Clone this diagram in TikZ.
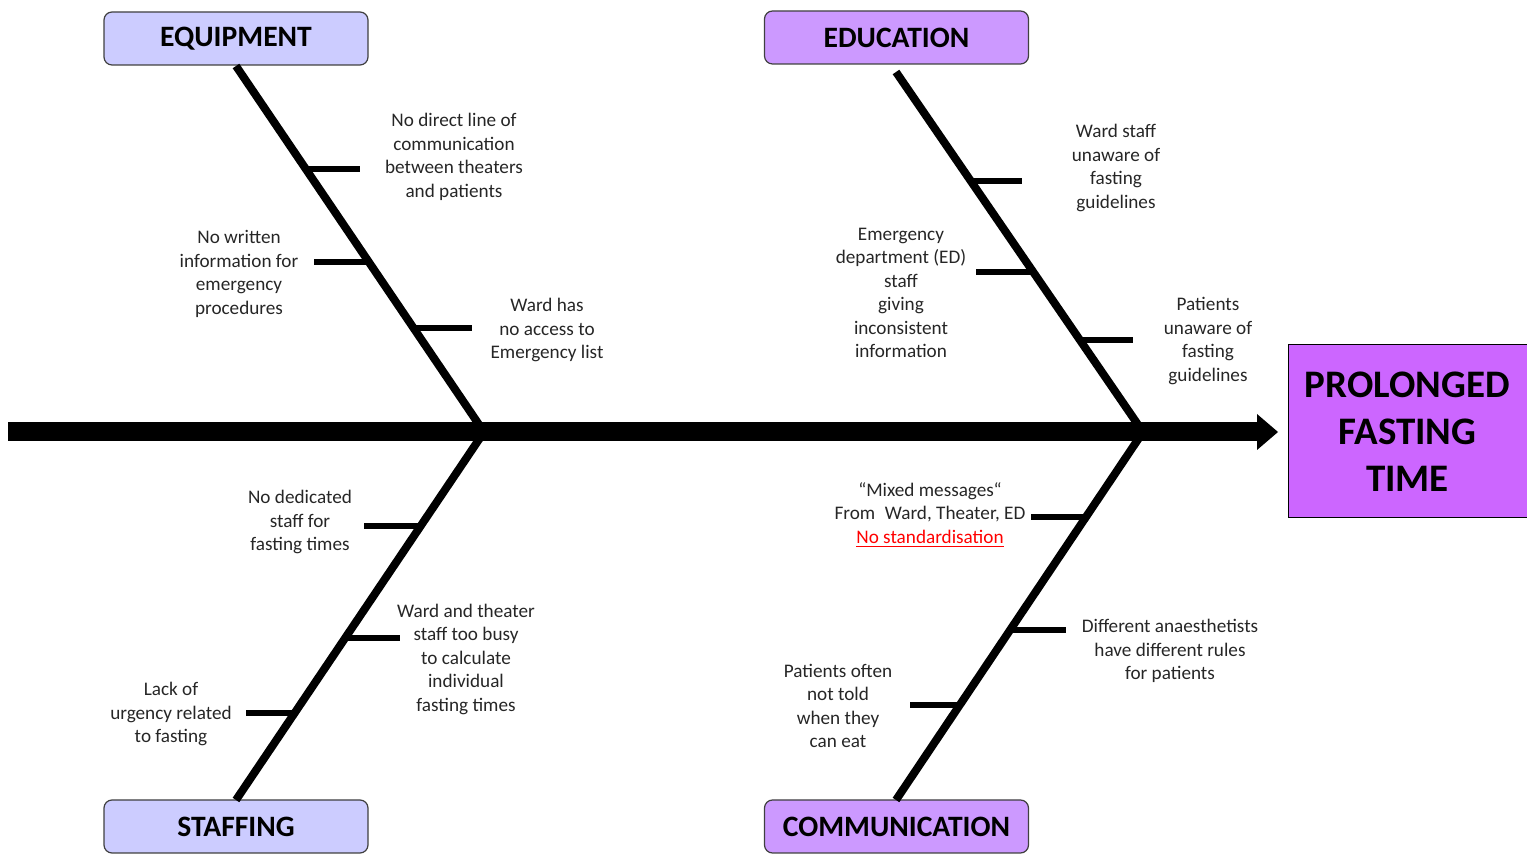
\documentclass[tikz,border=0pt]{standalone}
\usepackage{fontspec}
\setmainfont{Carlito}
\usetikzlibrary{calc}
\definecolor{lavender}{HTML}{CCCCFF}
\definecolor{lilac}{HTML}{CC99FF}
\definecolor{violet}{HTML}{CC66FF}
\definecolor{txt}{HTML}{262626}
\definecolor{boxedge}{HTML}{404040}
\tikzset{
  catbox/.style={draw=boxedge, line width=0.6pt, rounded corners=4pt, minimum width=132pt, minimum height=26.5pt, inner sep=0pt, font=\fontsize{14.8}{17}\selectfont\bfseries, text=black},
  effectbox/.style={draw=black, line width=0.5pt, fill=violet, minimum width=119.5pt, minimum height=86.5pt, inner sep=0pt, align=center, font=\fontsize{19.5}{23.5}\selectfont\bfseries, text=black},
  bone/.style={line width=4pt, black},
  tickmark/.style={line width=3.2pt, black},
  spine/.style={line width=9.5pt, black},
  cause/.style={align=center, inner sep=0pt, text=txt, font=\fontsize{9.6}{11.75}\selectfont},
}
\begin{document}
\begin{tikzpicture}[x=0.5pt,y=-0.5pt]
\useasboundingbox (0,0) rectangle (1527,854);
% category boxes
\node[catbox, fill=lavender] (equip) at (236,38.5) {\raisebox{-2pt}{EQUIPMENT}};
\node[catbox, fill=lilac] (edu) at (896.5,37.5) {\raisebox{-1pt}{EDUCATION}};
\node[catbox, fill=lavender] (staff) at (236,826.5) {\raisebox{-1pt}{STAFFING}};
\node[catbox, fill=lilac] (comm) at (896.5,826.5) {\raisebox{-1pt}{COMMUNICATION}};
\node[effectbox] (effect) at (1407.5,431.5) {PROLONGED\\FASTING\\TIME};
% spine
\coordinate (tail) at (8,432);
\coordinate (j1) at (484,432);
\coordinate (j2) at (1143,432);
\coordinate (head) at (1260,432);
\coordinate (eqtop) at (236,66);
\coordinate (edtop) at (896,72);
\coordinate (stbot) at (236,800);
\coordinate (cmbot) at (896,800);
\draw[spine] (tail) -- (head);
\fill[black] (1257,414) -- (1278,432) -- (1257,450) -- cycle;
% bones
\draw[bone] (eqtop) -- (j1);
\draw[bone] (edtop) -- (j2);
\draw[bone] (j1) -- (stbot);
\draw[bone] (j2) -- (cmbot);
% ticks equipment
\draw[tickmark] ($(eqtop)!0.281!(j1)$) -- ++(54,0);
\draw[tickmark] ($(eqtop)!0.536!(j1)$) -- ++(-55,0);
\draw[tickmark] ($(eqtop)!0.716!(j1)$) -- ++(58,0);
% ticks education
\draw[tickmark] ($(edtop)!0.303!(j2)$) -- ++(51,0);
\draw[tickmark] ($(edtop)!0.556!(j2)$) -- ++(-57,0);
\draw[tickmark] ($(edtop)!0.744!(j2)$) -- ++(53,0);
% ticks staffing
\draw[tickmark] ($(j1)!0.255!(stbot)$) -- ++(-57,0);
\draw[tickmark] ($(j1)!0.560!(stbot)$) -- ++(55,0);
\draw[tickmark] ($(j1)!0.764!(stbot)$) -- ++(-49,0);
% ticks communication
\draw[tickmark] ($(j2)!0.231!(cmbot)$) -- ++(-55,0);
\draw[tickmark] ($(j2)!0.538!(cmbot)$) -- ++(56,0);
\draw[tickmark] ($(j2)!0.742!(cmbot)$) -- ++(-50,0);
% cause texts
\node[cause] (c1) at (454,157) {No direct line of\\communication\\between theaters\\and patients};
\node[cause] (c2) at (239,274) {No written\\information for\\emergency\\procedures};
\node[cause] (c3) at (547,330) {Ward has\\no access to\\Emergency list};
\node[cause] (c4) at (1116,168) {Ward staff\\unaware of\\fasting\\guidelines};
\node[cause] (c5) at (901,293) {Emergency\\department (ED)\\staff\\giving\\inconsistent\\information};
\node[cause] (c6) at (1208,341) {Patients\\unaware of\\fasting\\guidelines};
\node[cause] (c7) at (300,522) {No dedicated\\staff for\\fasting times};
\node[cause] (c8) at (466,659) {Ward and theater\\staff too busy\\to calculate\\individual\\fasting times};
\node[cause] (c9) at (171,714) {Lack of\\urgency related\\to fasting};
\node[cause] (c10) at (930,515) {“Mixed messages“\\From\hspace{0.5em}Ward, Theater, ED\\{\color{red}\underline{No standardisation}}};
\node[cause] (c11) at (1170,651) {Different anaesthetists\\have different rules\\for patients};
\node[cause] (c12) at (838,706) {Patients often\\not told\\when they\\can eat};
\end{tikzpicture}
\end{document}
